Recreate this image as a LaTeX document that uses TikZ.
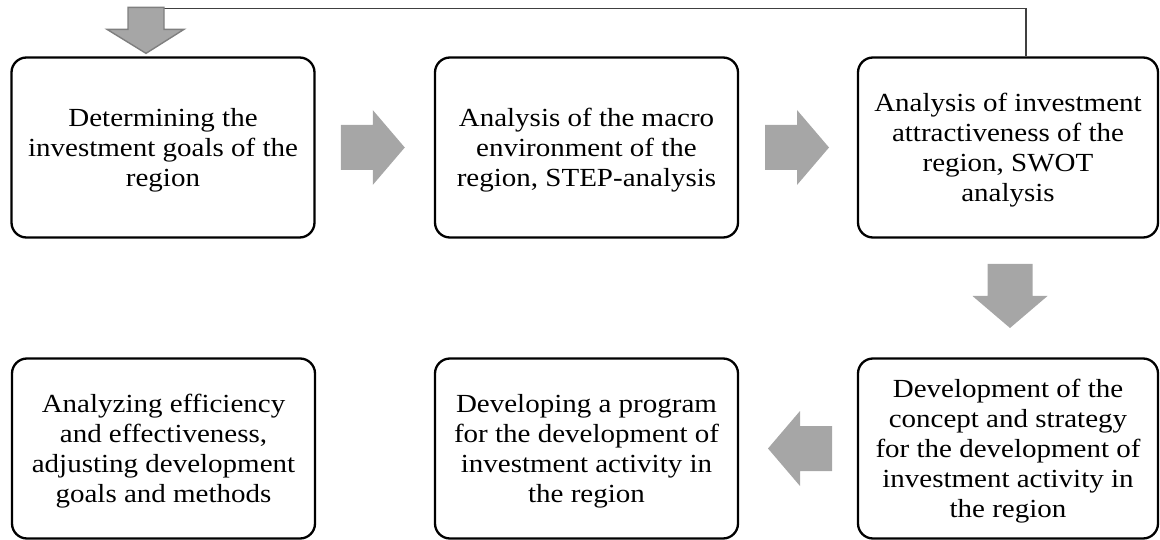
\documentclass[tikz,border=0pt]{standalone}
\usepackage{fontspec}
\usepackage{graphicx}
\setmainfont{Liberation Serif}
\usetikzlibrary{calc}

\definecolor{arrowgray}{HTML}{A6A6A6}
\definecolor{arrowedge}{HTML}{7F7F7F}
\definecolor{loopgray}{HTML}{404040}

% Box text: Times-width serif, slightly compressed vertically
\newcommand{\boxtxt}[1]{\raisebox{-3pt}[\height][\depth]{\scalebox{1}[0.9]{%
  \begin{tabular}{@{}c@{}}#1\end{tabular}}}}

\tikzset{
  stagebox/.style={draw=black, line width=2.3pt, rounded corners=15pt,
    minimum width=303pt, minimum height=180pt, inner sep=0pt,
    font=\fontsize{29}{33.3}\selectfont, align=center},
  pics/blockarrow/.style={code={
    \fill[arrowgray] (-32,-22.5) -- (0,-22.5) -- (0,-37.5) -- (32,0)
      -- (0,37.5) -- (0,22.5) -- (-32,22.5) -- cycle;}},
  loopline/.style={draw=loopgray, line width=1.3pt},
  backarrow/.style={fill=arrowgray, draw=arrowedge, line width=1.4pt, line join=miter}
}

\begin{document}
\begin{tikzpicture}[x=1pt, y=-1pt]
  \useasboundingbox (0,0) rectangle (1160,540);

  % process stages
  \node[stagebox] (b1) at (163,147.5)
    {\boxtxt{Determining the\\investment goals of the\\region}};
  \node[stagebox] (b2) at (586.5,147.5)
    {\boxtxt{Analysis of the macro\\environment of the\\region, STEP-analysis}};
  \node[stagebox, minimum width=300pt] (b3) at (1008,147.5)
    {\boxtxt{Analysis of investment\\attractiveness of the\\region, SWOT\\analysis}};
  \node[stagebox, minimum width=300pt] (b4) at (1008,448.5)
    {\boxtxt{Development of the\\concept and strategy\\for the development of\\investment activity in\\the region}};
  \node[stagebox] (b5) at (586.5,448.5)
    {\boxtxt{Developing a program\\for the development of\\investment activity in\\the region}};
  \node[stagebox] (b6) at (163.5,448.5)
    {\boxtxt{Analyzing efficiency\\and effectiveness,\\adjusting development\\goals and methods}};

  % block arrows between stages
  \pic at ($(b1.east)!0.5!(b2.west)+(-2,0)$) {blockarrow};
  \pic at ($(b2.east)!0.5!(b3.west)+(-1,0)$) {blockarrow};
  \pic[rotate=-90] at ($(b3.south)!0.5!(b4.north)+(2,-2)$) {blockarrow};
  \pic[rotate=180] at ($(b4.west)!0.5!(b5.east)+(2,0)$) {blockarrow};

  % feedback loop back to the first stage
  \coordinate (fbtip) at ($(b1.north)+(-17,-3)$);
  \coordinate (fbcorner) at ($(fbtip)+(18,-45)$);
  \coordinate (loopdrop) at ($(b3.north)+(18,0)$);
  \draw[loopline] (loopdrop) |- (fbcorner);
  \filldraw[backarrow] ($(fbtip)+(-18,-46)$) -- ($(fbtip)+(18,-46)$)
    -- ($(fbtip)+(18,-24)$) -- ($(fbtip)+(38,-24)$) -- (fbtip)
    -- ($(fbtip)+(-39,-24)$) -- ($(fbtip)+(-18,-24)$) -- cycle;
\end{tikzpicture}
\end{document}
